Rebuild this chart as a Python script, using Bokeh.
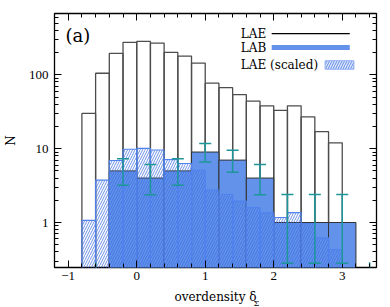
from bokeh.plotting import figure
from bokeh.models import (FixedTicker, LinearAxis, LogAxis, Range1d, ColumnDataSource,
                          Whisker, TeeHead, Label, Title, PrintfTickFormatter,
                          CustomJSTickFormatter)
from bokeh.embed import file_html
from bokeh.resources import INLINE

# ---------------- data ----------------
lae_width = 0.2
lae_left = [-0.8, -0.6, -0.4, -0.2, 0.0, 0.2, 0.4, 0.6, 0.8, 1.0,
            1.2, 1.4, 1.6, 1.8, 2.0, 2.2, 2.4, 2.6, 2.8]
lae_counts = [30, 105, 195, 275, 283, 269, 201, 179, 144, 77,
              67, 54, 44, 38, 33, 38, 27, 17, 12]
lae_scaled = [1.07, 3.75, 6.9, 9.8, 10.1, 9.6, 7.1, 6.3, 5.1, 2.75,
              2.4, 1.95, 1.6, 1.35, 1.17, 1.36, 0.97, 0.62, 0.43]

lab_width = 0.4
lab_left = [-0.8, -0.4, 0.0, 0.4, 0.8, 1.2, 1.6, 2.0, 2.4, 2.8, 3.2]
lab_counts = [0, 5, 4, 5, 9, 7, 4, 1, 1, 1, 0]
lab_err_upper = [0.29, 7.3, 6.1, 7.3, 11.7, 9.5, 6.1, 2.4, 2.4, 2.4, 0.29]
lab_err_lower = [0.0, 3.2, 2.37, 3.2, 6.6, 4.8, 2.37, 0.28, 0.28, 0.28, 0.0]

x_major = [-1, 0, 1, 2, 3]
x_minor = [round(-1.2 + 0.2 * i, 2) for i in range(25)]
y_major = [1, 10, 100]
y_minor = [0.2, 0.3, 0.4, 0.5, 0.6, 0.7, 0.8, 0.9,
           2, 3, 4, 5, 6, 7, 8, 9,
           20, 30, 40, 50, 60, 70, 80, 90,
           200, 300, 400, 500, 600, 700]

LAB_BLUE = "#6292ea"
HATCH_BLUE = "#3c6de0"
EDGE_BLUE = "#4f82ee"
TEAL = "#1e9699"
SERIF = "DejaVu Serif"
FLOOR = 0.01

# ---------------- figure ----------------
p = figure(width=390, height=307, x_range=Range1d(-1.2, 3.5),
           y_range=Range1d(0.246, 676), y_axis_type="log",
           output_backend="svg", toolbar_location=None,
           min_border_left=51, min_border_right=14, min_border_top=13,
           min_border_bottom=40)
p.background_fill_color = "white"
p.border_fill_color = "white"
p.grid.visible = False
p.outline_line_color = "black"
p.outline_line_width = 1.3
p.outline_line_alpha = 1.0

# LAE outline histogram
lae_src = ColumnDataSource(dict(
    left=lae_left,
    right=[l + lae_width for l in lae_left],
    top=lae_counts,
    scaled=lae_scaled,
    bottom=[FLOOR] * len(lae_left)))
p.quad(left="left", right="right", top="top", bottom="bottom", source=lae_src,
       fill_color=None, line_color="#4d4d4d", line_width=1.3)

# LAB filled histogram
lab_idx = [i for i, c in enumerate(lab_counts) if c > 0]
lab_src = ColumnDataSource(dict(
    left=[lab_left[i] for i in lab_idx],
    right=[lab_left[i] + lab_width for i in lab_idx],
    top=[lab_counts[i] for i in lab_idx],
    bottom=[FLOOR] * len(lab_idx)))
p.quad(left="left", right="right", top="top", bottom="bottom", source=lab_src,
       fill_color=LAB_BLUE, line_color="#333333", line_width=1.0)

# LAE scaled hatched histogram
p.quad(left="left", right="right", top="scaled", bottom="bottom", source=lae_src,
       fill_color=None, hatch_pattern="/", hatch_color=HATCH_BLUE,
       hatch_alpha=0.75, hatch_scale=5, hatch_weight=1,
       line_color=EDGE_BLUE, line_width=1.1)

# error bars
centers = [l + lab_width / 2 for l in lab_left]
nz = [i for i, c in enumerate(lab_counts) if c > 0]
zr = [i for i, c in enumerate(lab_counts) if c == 0]
err_src = ColumnDataSource(dict(
    x=[centers[i] for i in nz],
    hi=[lab_err_upper[i] for i in nz],
    lo=[lab_err_lower[i] for i in nz]))
w = Whisker(source=err_src, base="x", upper="hi", lower="lo", dimension="height",
            line_color=TEAL, line_width=1.5, level="annotation",
            upper_head=TeeHead(size=12, line_color=TEAL, line_width=1.5),
            lower_head=TeeHead(size=12, line_color=TEAL, line_width=1.5))
p.add_layout(w)
p.segment(x0=[centers[i] for i in zr], x1=[centers[i] for i in zr],
          y0=[max(lab_err_lower[i], FLOOR) for i in zr],
          y1=[lab_err_upper[i] for i in zr], line_color=TEAL, line_width=1.5)

# ---------------- axes ----------------
xt = FixedTicker(ticks=x_major, minor_ticks=x_minor)
yt = FixedTicker(ticks=y_major, minor_ticks=y_minor)

def style(ax, labels=True):
    ax.axis_line_color = None
    ax.major_tick_in = 7
    ax.major_tick_out = 0
    ax.minor_tick_in = 4
    ax.minor_tick_out = 0
    ax.major_tick_line_color = "black"
    ax.minor_tick_line_color = "black"
    ax.major_tick_line_width = 1
    ax.minor_tick_line_width = 1
    if labels:
        ax.major_label_text_font = "Liberation Serif"
        ax.major_label_text_font_size = "13px"
        ax.major_label_text_color = "black"
    else:
        ax.formatter = CustomJSTickFormatter(code="return ''")
        ax.major_label_text_font_size = "2px"
        ax.major_label_standoff = 0

xax = p.xaxis[0]
yax = p.yaxis[0]
xax.ticker = xt
yax.ticker = yt
yax.formatter = PrintfTickFormatter(format="%d")
style(xax)
style(yax)
xax.major_label_standoff = 4
yax.major_label_standoff = 6

x_title = "overdensity δ"
x_title_sub = "Σ"

yax.axis_label = "N"
yax.axis_label_standoff = 8
for ax in (xax, yax):
    ax.axis_label_text_font = SERIF
    ax.axis_label_text_font_size = "12px"
    ax.axis_label_text_font_style = "normal"
    ax.axis_label_text_color = "black"
xax.axis_label_standoff = 7

top_ax = LinearAxis(ticker=xt)
style(top_ax, labels=False)
right_ax = LogAxis(ticker=yt)
style(right_ax, labels=False)
p.add_layout(top_ax, "above")
p.add_layout(right_ax, "right")

# x-axis title: main part on the axis, subscript as a small title pulled up beside it
try:
    sub = Title(text=x_title_sub, align="left", offset=199, standoff=-16,
                vertical_align="top", text_font=SERIF, text_font_size="8px",
                text_font_style="normal", text_color="black")
    xax.axis_label = x_title
    p.add_layout(sub, "below")
except Exception:
    xax.axis_label = x_title + x_title_sub

# panel tag
p.add_layout(Label(x=-1.04, y=337, text="(a)", text_font=SERIF, text_font_size="18px",
                   text_color="black", text_baseline="middle", text_align="left"))

# ---------------- legend ----------------
for yv, txt in [(355, "LAE"), (232, "LAB"), (136, "LAE (scaled)")]:
    p.add_layout(Label(x=1.52, y=yv, text=txt, text_font=SERIF, text_font_size="12px",
                       text_color="black", text_baseline="middle", text_align="left"))
p.segment(x0=[1.97], x1=[3.11], y0=[362], y1=[362], line_color="black", line_width=1.2)
p.segment(x0=[1.97], x1=[3.11], y0=[234], y1=[234], line_color=LAB_BLUE, line_width=5)
p.quad(left=[2.75], right=[3.17], bottom=[119], top=[155], fill_color="#dde6fb",
       hatch_pattern="/", hatch_color=HATCH_BLUE, hatch_alpha=0.75, hatch_scale=5,
       hatch_weight=1, line_color="#8fb0f5", line_width=1)

open("out.html", "w").write(file_html(p, INLINE))
